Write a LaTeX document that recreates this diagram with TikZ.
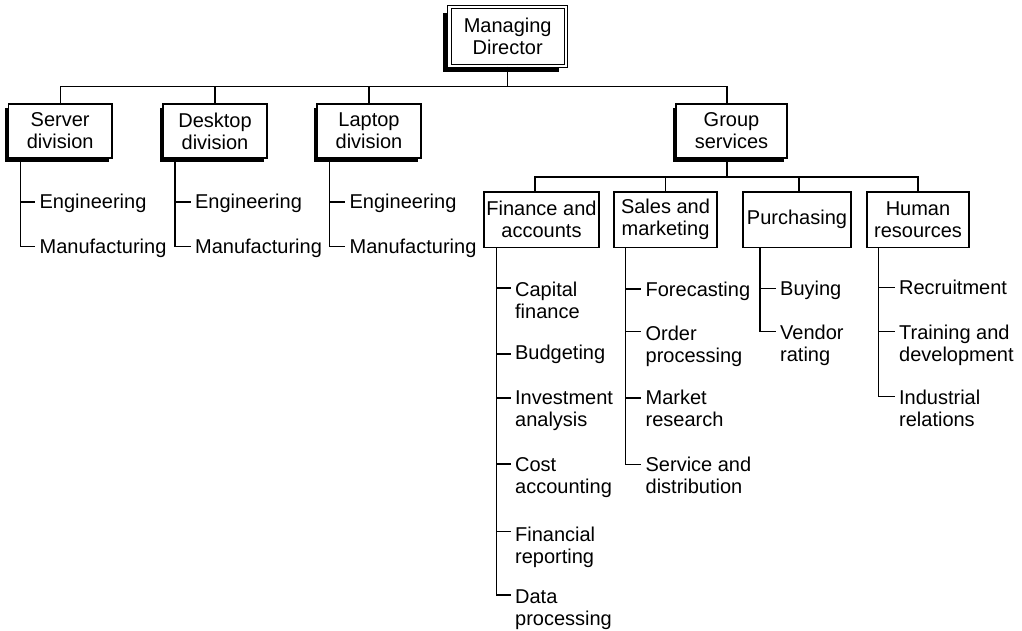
\documentclass[tikz,border=0pt]{standalone}
\usepackage{fontspec}
\setmainfont{Liberation Sans}
\usetikzlibrary{shadows}
\newcommand\ml[1]{\begin{tabular}[t]{@{}l@{}}#1\end{tabular}}
\newcommand\tk[2][7pt]{\coordinate (#2t) at ([xshift=-4pt,yshift=#1]#2.base west);}
\begin{document}
\begin{tikzpicture}[x=1pt,y=-1pt, line width=1.3pt,
  every node/.style={font=\fontsize{20}{22}\selectfont},
  box/.style={draw, fill=white, align=center, inner sep=0pt, minimum height=54pt},
  divbox/.style={box, general shadow={fill=black, shadow xshift=-3.5pt, shadow yshift=-4pt}},
  subbox/.style={box, minimum height=55.5pt},
  item/.style={anchor=base west, inner sep=0pt}]
\useasboundingbox[fill=white] (0,0) rectangle (1022,631);

% top
\node[box, double, double distance=2.5pt, line width=1.1pt, minimum width=116.5pt, minimum height=59pt,
  general shadow={fill=black, shadow xshift=-6.5pt, shadow yshift=-6pt}] (md) at (507.7,36.5) {Managing\\Director};

% divisions
\node[divbox, minimum width=103.7pt] (srv) at (60.2,131) {Server\\division};
\node[divbox, minimum width=104pt] (dsk) at (215,131) {Desktop\\division};
\node[divbox, minimum width=104pt] (lap) at (369,131) {Laptop\\division};
\node[divbox, minimum width=111pt] (gs) at (731.5,131) {Group\\services};

% group services departments
\node[subbox, minimum width=115pt] (fin) at (541.5,219.8) {Finance and\\accounts};
\node[subbox, minimum width=103pt] (sal) at (665.5,219.8) {Sales and\\marketing};
\node[subbox, minimum width=108pt] (pur) at (797,219.8) {Purchasing};
\node[subbox, minimum width=102pt] (hr) at (918,219.8) {Human\\resources};

% buses
\coordinate (b1) at (0,86.5);
\coordinate (b2) at (0,177);
\coordinate (gsx) at ([xshift=-4.5pt]gs.north);
\coordinate (gsy) at ([xshift=-4.5pt]gs.south);
\coordinate (finx) at ([xshift=-6.5pt]fin.north);
\coordinate (purx) at ([xshift=2pt]pur.north);
\draw (md.south) -- (md.south |- b1);
\draw (srv.north) -- (srv.north |- b1) -- (gsx |- b1) -- (gsx);
\draw (dsk.north) -- (dsk.north |- b1);
\draw (lap.north) -- (lap.north |- b1);
\draw (gsy) -- (gsy |- b2);
\draw (finx) -- (finx |- b2) -- (hr.north |- b2) -- (hr.north);
\draw (sal.north) -- (sal.north |- b2);
\draw (purx) -- (purx |- b2);

% division items
\node[item] (s1) at (39,208.3) {Engineering};
\node[item] (s2) at (39,253.3) {Manufacturing};
\node[item] (d1) at (194.5,208.3) {Engineering};
\node[item] (d2) at (194.5,253.3) {Manufacturing};
\node[item] (l1) at (349,208.3) {Engineering};
\node[item] (l2) at (349,253.3) {Manufacturing};
\tk[6.3pt]{s1}\tk[6.6pt]{s2}\tk[6.3pt]{d1}\tk[6.6pt]{d2}\tk[6.3pt]{l1}\tk[6.6pt]{l2}
\coordinate (sT) at ([xshift=12.7pt]srv.south west);
\coordinate (dT) at ([xshift=12.7pt]dsk.south west);
\coordinate (lT) at ([xshift=13pt]lap.south west);
\draw (sT) |- (s2t); \draw (sT |- s1t) -- (s1t);
\draw (dT) |- (d2t); \draw (dT |- d1t) -- (d1t);
\draw (lT) |- (l2t); \draw (lT |- l1t) -- (l1t);

% finance items
\node[item] (f1) at (514.5,296.5) {\ml{Capital\\finance}};
\node[item] (f2) at (514.5,359.5) {Budgeting};
\node[item] (f3) at (514.5,404) {\ml{Investment\\analysis}};
\node[item] (f4) at (514.5,471.5) {\ml{Cost\\accounting}};
\node[item] (f5) at (514.5,541.5) {\ml{Financial\\reporting}};
\node[item] (f6) at (514.5,603) {\ml{Data\\processing}};
\tk[8.5pt]{f1}\tk[5.5pt]{f2}\tk[6pt]{f3}\tk[7.5pt]{f4}\tk[10pt]{f5}\tk[8pt]{f6}
\coordinate (fT) at ([xshift=13pt]fin.south west);
\draw (fT) |- (f6t);
\foreach \n in {f1,f2,f3,f4,f5} \draw (fT |- \n t) -- (\n t);

% sales items
\node[item] (a1) at (645,296) {Forecasting};
\node[item] (a2) at (645,340) {\ml{Order\\processing}};
\node[item] (a3) at (645,404) {\ml{Market\\research}};
\node[item] (a4) at (645,471.5) {\ml{Service and\\distribution}};
\tk[7pt]{a1}\tk[8.3pt]{a2}\tk[6pt]{a3}\tk[7.2pt]{a4}
\coordinate (aT) at ([xshift=12pt]sal.south west);
\draw (aT) |- (a4t);
\foreach \n in {a1,a2,a3} \draw (aT |- \n t) -- (\n t);

% purchasing items
\node[item] (p1) at (779.5,295) {Buying};
\node[item] (p2) at (779.5,339.5) {\ml{Vendor\\rating}};
\tk[6.7pt]{p1}\tk[7.8pt]{p2}
\coordinate (pT) at ([xshift=17.7pt]pur.south west);
\draw (pT) |- (p2t); \draw (pT |- p1t) -- (p1t);

% HR items
\node[item] (h1) at (898.5,294) {Recruitment};
\node[item] (h2) at (898.5,339.5) {\ml{Training and\\development}};
\node[item] (h3) at (898.5,404.3) {\ml{Industrial\\relations}};
\tk[6.7pt]{h1}\tk[7.8pt]{h2}\tk[7.6pt]{h3}
\coordinate (hT) at ([xshift=12pt]hr.south west);
\draw (hT) |- (h3t);
\foreach \n in {h1,h2} \draw (hT |- \n t) -- (\n t);
\end{tikzpicture}
\end{document}
